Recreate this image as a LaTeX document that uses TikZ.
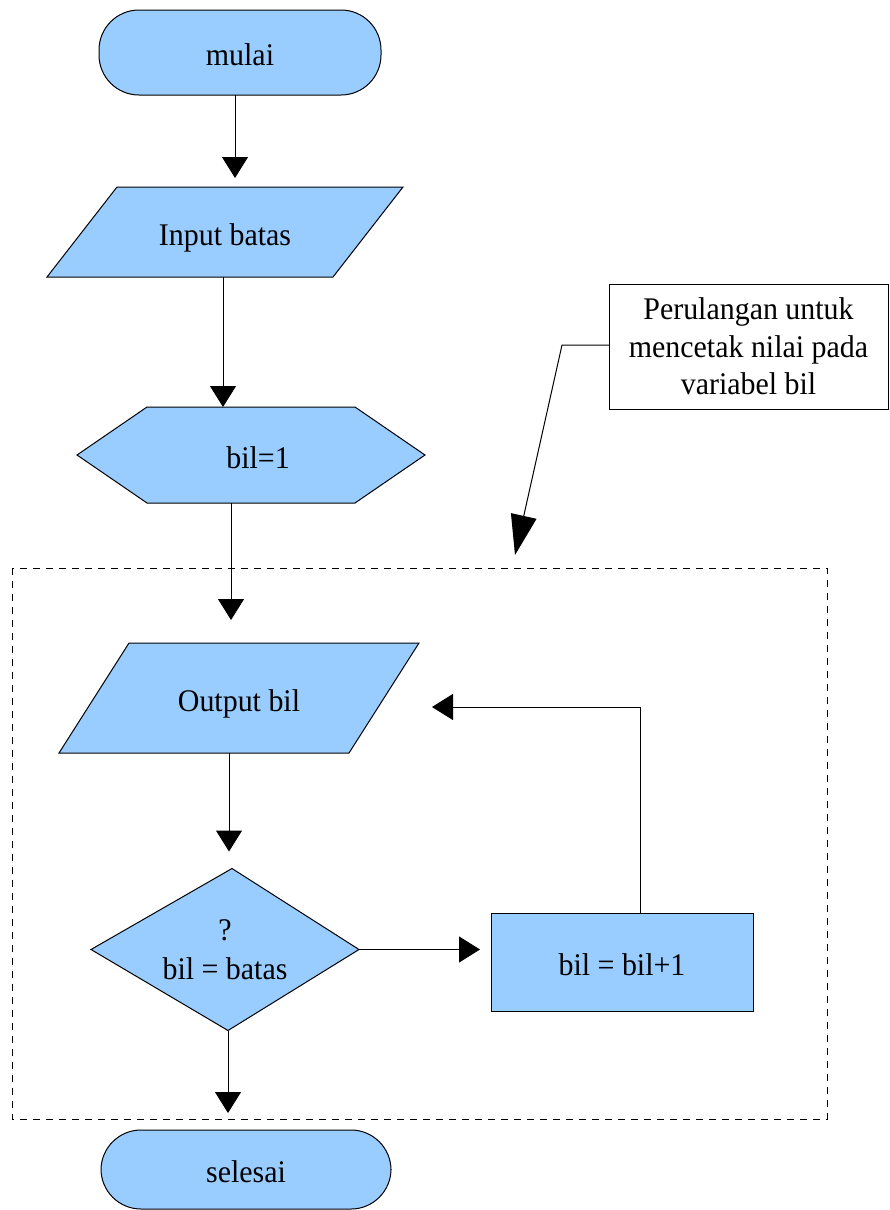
\documentclass[tikz,border=0pt]{standalone}
\usepackage{fontspec}
\setmainfont{Liberation Serif}[FakeStretch=0.95]
\usetikzlibrary{arrows.meta,backgrounds}
\definecolor{fillblue}{HTML}{99CCFF}
\begin{document}
\begin{tikzpicture}[x=1pt,y=-1pt,
  every node/.style={font=\fontsize{31.5}{38}\selectfont},
  box/.style={inner sep=0pt, outer sep=0pt, align=center},
  oneline/.style={box, text height=26pt, text depth=0pt},
  shapeline/.style={draw=black, fill=fillblue, line width=1pt},
  terminal/.style={oneline, shapeline, rounded corners=40pt},
  arr/.style={draw=black, line width=1pt, -{Triangle[length=21pt,width=26pt]}},
  longarr/.style={draw=black, line width=1pt, -{Triangle[length=40pt,width=26pt]}},
  frame/.style={draw=black, line width=0.9pt, dash pattern=on 7pt off 6pt},
]
\useasboundingbox (0,0) rectangle (889,1210);

% nodes
\node[terminal, minimum width=282pt, minimum height=85pt] (start) at (240,52.5) {mulai};
\node[oneline, minimum width=356pt, minimum height=90pt] (inp) at (225,232) {Input batas};
\node[oneline, minimum width=348pt, minimum height=96pt] (hex) at (251,455) {\hspace*{14pt}bil=1};
\node[box, minimum width=268pt, minimum height=162pt] (dia) at (225,949.5) {?\\[1pt]bil = batas};
\node[oneline, minimum width=360pt, minimum height=110pt] (out) at (239,698) {Output bil};
\node[oneline, shapeline, minimum width=262pt, minimum height=98pt] (inc) at (622,962) {bil = bil+1};
\node[terminal, minimum width=290pt, minimum height=79pt] (stop) at (246,1169.5) {selesai};
\node[box, draw=black, line width=1pt, fill=white, minimum width=279pt, minimum height=125pt,
  font=\fontsize{31.5}{37.5}\selectfont] (note) at (748.5,346.5)
  {Perulangan untuk\\mencetak nilai pada\\variabel bil};

% shapes behind the texts
\begin{scope}[on background layer]
  \draw[shapeline] ([xshift=70pt]inp.north west) -- (inp.north east)
     -- ([xshift=-70pt]inp.south east) -- (inp.south west) -- cycle;
  \draw[shapeline] ([xshift=70pt]hex.north west) -- ([xshift=-70pt]hex.north east)
     -- (hex.east) -- ([xshift=-70pt]hex.south east) -- ([xshift=70pt]hex.south west)
     -- (hex.west) -- cycle;
  \draw[shapeline] ([xshift=70pt]out.north west) -- (out.north east)
     -- ([xshift=-70pt]out.south east) -- (out.south west) -- cycle;
  \draw[shapeline] ([xshift=7pt]dia.north) -- (dia.east) -- ([xshift=3pt]dia.south)
     -- (dia.west) -- cycle;
\end{scope}

% loop frame
\coordinate (fnw) at (12,568);
\coordinate (fse) at (827,1119);
\draw[frame] (fnw) rectangle (fse);

% connectors
\draw[arr, shorten >=9pt] ([xshift=-5pt]start.south) -- ([xshift=-5pt]start.south |- inp.north);
\draw[arr] ([xshift=-2pt]inp.south) -- ([xshift=-2pt]inp.south |- hex.north);
\draw[arr, shorten >=23pt] ([xshift=-20pt]hex.south) -- ([xshift=-20pt]hex.south |- out.north);
\draw[arr, shorten >=17pt] ([xshift=-10pt]out.south) -- ([xshift=-10pt]out.south |- dia.north);
\draw[arr, shorten >=11pt] (dia.east) -- (dia.east -| inc.west);
\draw[arr] ([xshift=18pt]inc.north) |- ([xshift=13pt,yshift=-9pt]out.east);
\draw[arr, shorten >=17pt] ([xshift=3pt]dia.south) -- ([xshift=3pt]dia.south |- stop.north);
\coordinate (bend) at (562,345);
\coordinate (ptr) at (515,555);
\draw[longarr] ([yshift=1.5pt]note.west) -- (bend) -- (ptr);
\end{tikzpicture}
\end{document}
